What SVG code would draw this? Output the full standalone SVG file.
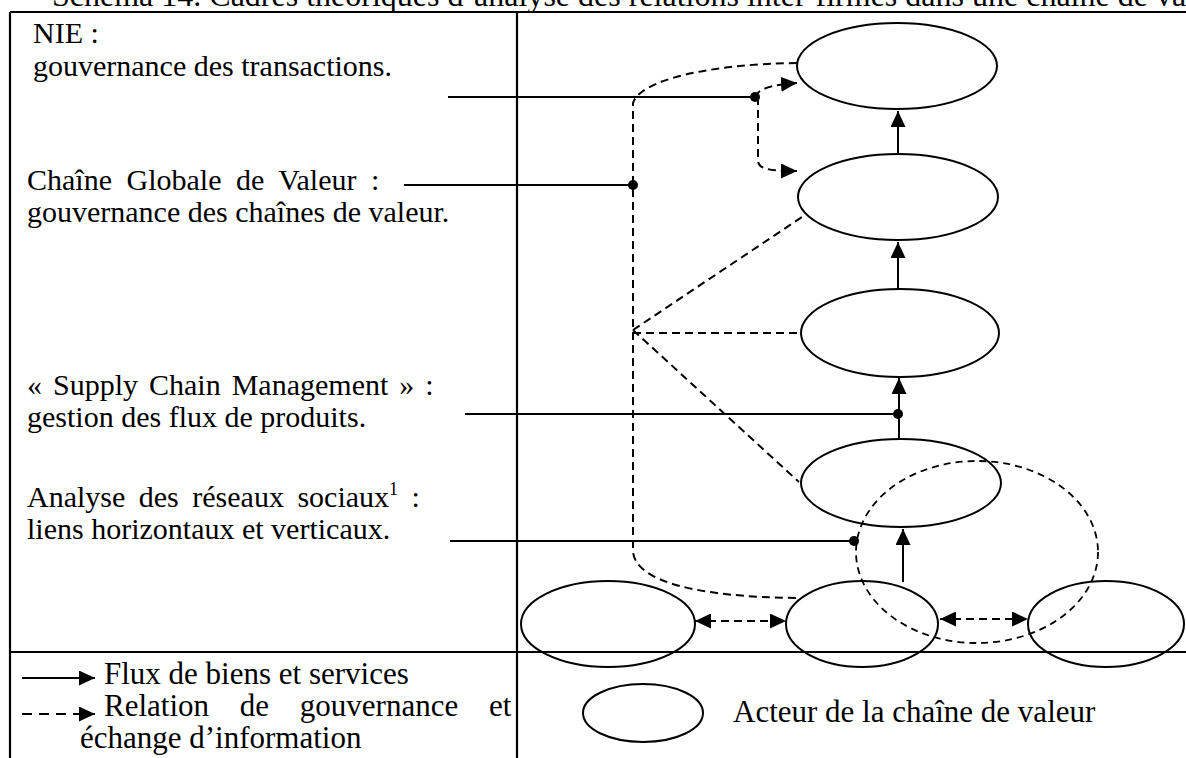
<svg xmlns="http://www.w3.org/2000/svg" width="1186" height="758" viewBox="0 0 1186 758">
<style>
text{font-family:"Liberation Serif","Times New Roman",serif;font-size:30px;fill:#000}
.lg{font-size:31px}
.frame{stroke:#000;stroke-width:2.2;fill:none}
.node{fill:none;stroke:#000;stroke-width:2}
.solid{stroke:#000;stroke-width:2;fill:none}
.dash{stroke:#000;stroke-width:2;fill:none;stroke-dasharray:8 5}
.dot{fill:#000}
</style>
<defs>
<marker id="arr" markerUnits="userSpaceOnUse" markerWidth="16" markerHeight="15" refX="16" refY="7.5" orient="auto-start-reverse">
<path d="M0,0 L16,7.5 L0,15 z" fill="#000"/>
</marker>
</defs>
<rect width="1186" height="758" fill="#fff"/>
<text id="title" x="52" y="6" style="font-size:32px">Schéma 14. Cadres théoriques d’analyse des relations inter-firmes dans une chaîne de valeur</text>
<g id="frame">
<line class="frame" x1="10" y1="12" x2="1186" y2="12"/>
<line class="frame" x1="10" y1="12" x2="10" y2="758"/>
<line class="frame" x1="517" y1="12" x2="517" y2="758"/>
<line class="frame" x1="10" y1="652" x2="1186" y2="652"/>
</g>
<g id="labels">
<text x="33" y="43">NIE :</text>
<text x="33" y="76">gouvernance des transactions.</text>
<text x="27" y="190" word-spacing="7">Chaîne Globale de Valeur :</text>
<text x="27" y="222">gouvernance des chaînes de valeur.</text>
<text x="27" y="395" word-spacing="3.5">« Supply Chain Management » :</text>
<text x="27" y="427">gestion des flux de produits.</text>
<text x="27" y="507" word-spacing="6">Analyse des réseaux sociaux<tspan font-size="18" dy="-12">1</tspan><tspan dy="12"> :</tspan></text>
<text x="27" y="539">liens horizontaux et verticaux.</text>
</g>
<g id="connectors">
<line class="solid" x1="448" y1="97" x2="755" y2="97"/>
<circle class="dot" cx="755" cy="97" r="5"/>
<line class="solid" x1="404" y1="185" x2="633" y2="185"/>
<circle class="dot" cx="633" cy="185" r="5"/>
<line class="solid" x1="465" y1="414" x2="898" y2="414"/>
<circle class="dot" cx="898" cy="414" r="5"/>
<line class="solid" x1="450" y1="541" x2="854" y2="541"/>
<circle class="dot" cx="854" cy="541" r="5"/>
<line class="solid" x1="898" y1="153" x2="898" y2="111" marker-end="url(#arr)"/>
<line class="solid" x1="898" y1="289" x2="898" y2="242" marker-end="url(#arr)"/>
<line class="solid" x1="899" y1="439" x2="899" y2="378" marker-end="url(#arr)"/>
<line class="solid" x1="903" y1="582" x2="903" y2="529" marker-end="url(#arr)"/>
<path class="dash" d="M797,63 C710,64 640,80 633,103 L633,550 C633,582 700,597 797,598"/>
<path class="dash" d="M755,97 C758,89 770,85 797,83" marker-end="url(#arr)"/>
<path class="dash" d="M758,97 L758,160 C758,168 765,171 797,171" marker-end="url(#arr)"/>
<line class="dash" x1="633" y1="330" x2="805" y2="215"/>
<line class="dash" x1="633" y1="333" x2="800" y2="333"/>
<line class="dash" x1="633" y1="330" x2="799" y2="482"/>
<ellipse class="dash" cx="977" cy="552" rx="121" ry="91" style="stroke-dasharray:7 5;stroke-width:1.8"/>
<line class="dash" x1="695" y1="621" x2="786" y2="621" marker-start="url(#arr)" marker-end="url(#arr)"/>
<line class="dash" x1="940" y1="619" x2="1028" y2="619" marker-start="url(#arr)" marker-end="url(#arr)"/>
</g>
<g id="n1"><ellipse class="node" cx="897" cy="66" rx="100" ry="43"/></g>
<g id="n2"><ellipse class="node" cx="898" cy="197" rx="100" ry="43"/></g>
<g id="n3"><ellipse class="node" cx="900" cy="333" rx="99" ry="44"/></g>
<g id="n4"><ellipse class="node" cx="901" cy="483" rx="100" ry="44"/></g>
<g id="b1"><ellipse class="node" cx="608" cy="624" rx="87" ry="43"/></g>
<g id="b2"><ellipse class="node" cx="862" cy="624" rx="76" ry="43"/></g>
<g id="b3"><ellipse class="node" cx="1106" cy="624" rx="78" ry="43"/></g>
<g id="legend">
<line class="solid" x1="22" y1="678" x2="95" y2="678" marker-end="url(#arr)"/>
<line class="solid" x1="22" y1="714" x2="95" y2="714" style="stroke-dasharray:10 7" marker-end="url(#arr)"/>
<text class="lg" x="104" y="684">Flux de biens et services</text>
<text class="lg" x="104" y="716" word-spacing="23">Relation de gouvernance et</text>
<text class="lg" x="80" y="748">échange d’information</text>
<ellipse class="node" cx="643" cy="713" rx="60" ry="29"/>
<text class="lg" x="733" y="722">Acteur de la chaîne de valeur</text>
</g>
</svg>
